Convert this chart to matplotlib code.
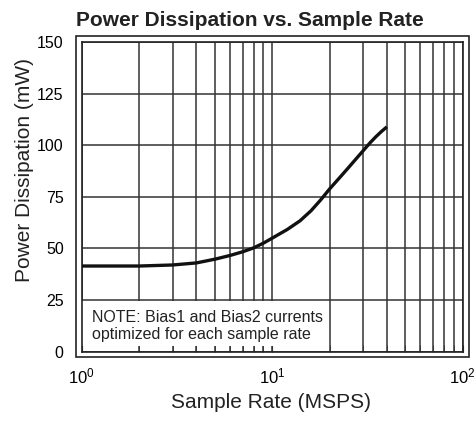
import numpy as np
import matplotlib
matplotlib.use('Agg')
import matplotlib.pyplot as plt
from matplotlib.patches import Rectangle

plt.rcParams['font.family'] = ['Liberation Sans', 'DejaVu Sans']
plt.rcParams['mathtext.fontset'] = 'custom'
plt.rcParams['mathtext.rm'] = 'Liberation Sans'

# sample rate (MSPS) vs power dissipation (mW)
rate = [1, 2, 3, 4, 5, 6, 7, 8, 9, 10, 11, 12, 14, 16, 18, 20,
        22.5, 25, 27.5, 30, 32.5, 35, 37.5, 40]
power = [41.5, 41.5, 42, 43, 44.8, 46.6, 48.4, 50.3, 52.6, 55, 57.2, 59.2,
         63.4, 68.3, 73.6, 78.8, 84.1, 88.9, 93.3, 97.3, 101, 104.1, 106.7, 108.9]
yticks = [0, 25, 50, 75, 100, 125, 150]

W, H = 477, 421
fig = plt.figure(figsize=(W/100, H/100), dpi=100)
l, r, b, t = 81.7, 462.7, 351.7, 42
ax = fig.add_axes([l/W, (H-b)/H, (r-l)/W, (b-t)/H])

ax.plot(rate, power, color='#111111', lw=2.4, solid_capstyle='butt', zorder=3)

ax.set_xscale('log')
ax.set_xlim(1, 100)
ax.set_ylim(0, 150)
ax.set_yticks(yticks)
ax.grid(True, which='both', axis='x', color='#333333', lw=1.1)
ax.grid(True, which='major', axis='y', color='#333333', lw=1.1)
ax.tick_params(which='both', direction='in', color='#333333')
ax.tick_params(which='both', length=5)
ax.tick_params(axis='y', pad=13, length=0, labelsize=11.5)
ax.tick_params(axis='x', pad=11, labelsize=12)
for s in ax.spines.values():
    s.set_color('#222222')
    s.set_linewidth(1.2)

# white note box in the lower left
ax.add_patch(Rectangle((1, 2.6), 19.7 - 1, 24.5 - 2.6, facecolor='white',
                       edgecolor='none', zorder=1.8))
ax.text(1.13, 12.4, 'NOTE: Bias1 and Bias2 currents\noptimized for each sample rate',
        fontsize=11.5, color='#222222', linespacing=1.1, va='center', ha='left', zorder=3)

# outer frame
fig.patches.append(Rectangle((75.7/W, (H-356.7)/H), (469.3-75.7)/W, (356.7-36)/H,
                             transform=fig.transFigure, fill=False,
                             edgecolor='#222222', lw=1.2))

fig.text(249.5/W, 1-20/H, 'Power Dissipation vs. Sample Rate', fontsize=15,
         fontweight='bold', ha='center', va='center', color='#222222')
fig.text(25/W, 1-170/H, 'Power Dissipation (mW)', fontsize=15, rotation=90,
         ha='center', va='center', color='#222222')
fig.text(271/W, 1-402/H, 'Sample Rate (MSPS)', fontsize=15,
         ha='center', va='center', color='#222222')

fig.savefig('out.png', dpi=100)
